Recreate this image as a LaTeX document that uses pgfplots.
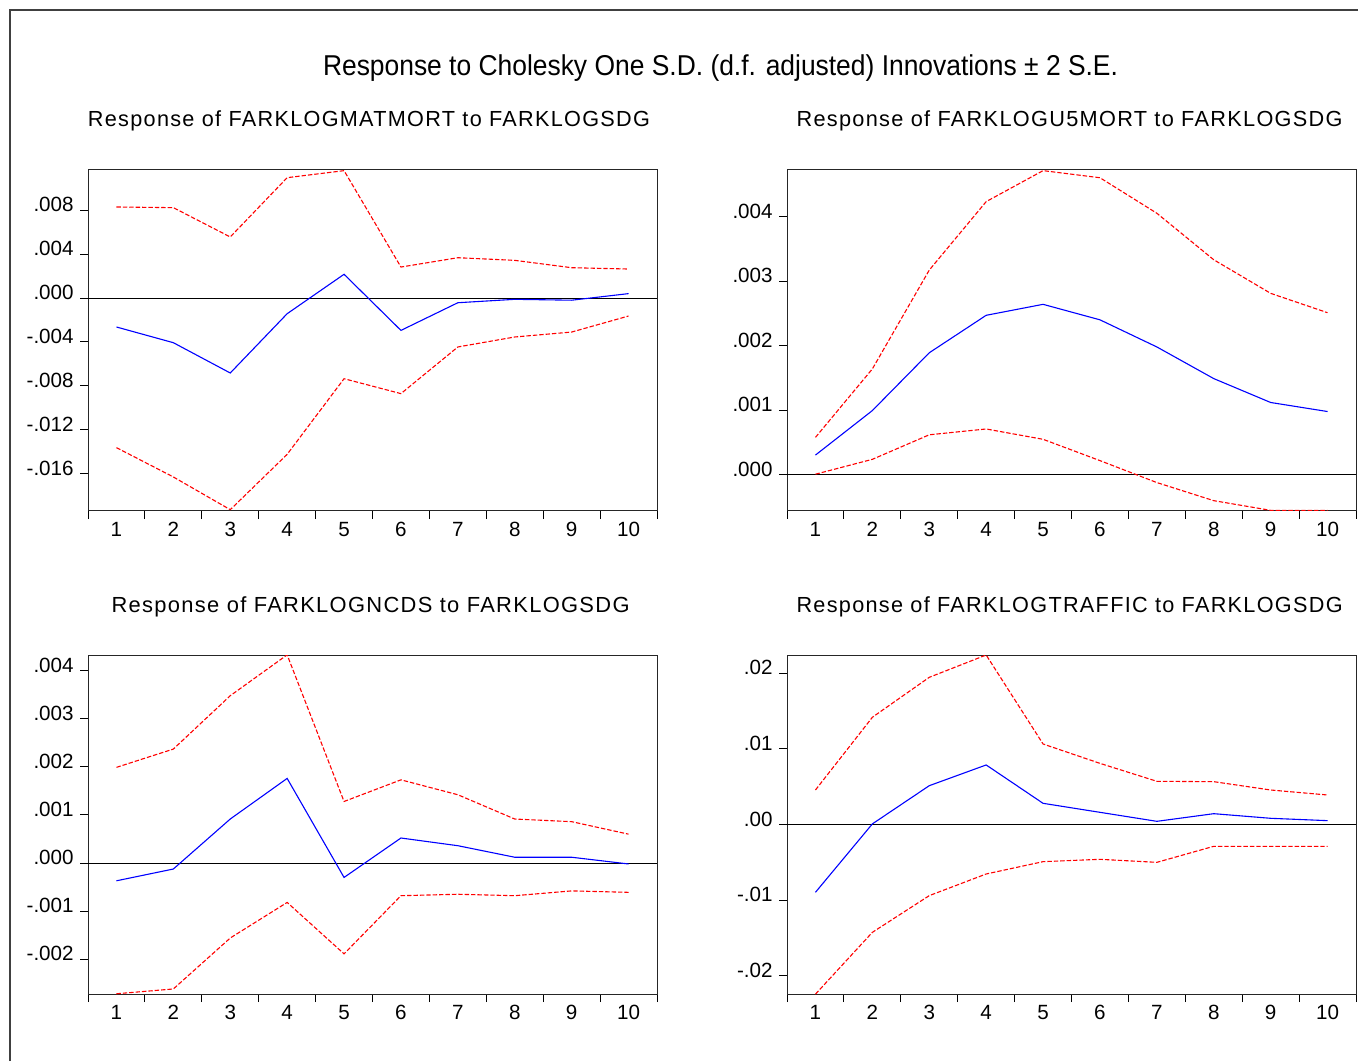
\documentclass[border=0pt]{standalone}
\usepackage{fontspec}
\setmainfont{Liberation Sans}
\newfontfamily\subfont[LetterSpace=6]{Liberation Sans}
\usepackage{pgfplots}
\pgfplotsset{compat=1.18}
\usepackage{graphicx}

\definecolor{irfblue}{RGB}{0,0,255}
\definecolor{irfred}{RGB}{255,0,0}

\pgfplotsset{
  irf/.style={
    scale only axis,
    width=284.5pt, height=170.5pt,
    xmin=0.5, xmax=10.5,
    xtick={1,...,10},
    xticklabels={1,2,3,4,5,6,7,8,9,10},
    minor xtick={0.5,1.5,...,10.5},
    major x tick style={draw=none},
    scaled y ticks=false,
    /pgf/number format/assume math mode=true,
    tick align=outside,
    xtick pos=bottom, ytick pos=left,
    major tick length=4pt, minor tick length=4pt,
    tick style={black, line width=0.5pt},
    axis line style={black!85, line width=0.5pt},
    ticklabel style={font=\fontsize{10.3pt}{12pt}\selectfont},
    yticklabel style={anchor=base east, inner sep=0pt, xshift=-3pt, yshift=-0.8pt},
    xticklabel style={anchor=north, inner sep=0pt, yshift=-1.5pt},
    clip=true,
  },
  resp/.style={irfblue, line width=0.55pt},
  band/.style={irfred, line width=0.55pt, dash pattern=on 2.2pt off 1pt},
  zero/.style={black, line width=0.5pt},
}

\begin{document}
\begin{tikzpicture}

% frame round the graph
\draw[black!75, line width=0.8pt] (5pt,0pt) -- (5pt,525.5pt) -- (679pt,525.5pt);

\node[anchor=base, inner sep=0pt] at (360.25pt,492.5pt)
  {\resizebox{397.5pt}{10.4pt}{\fontsize{13.3pt}{15pt}\selectfont Response to Cholesky One S.D. (d.f. adjusted) Innovations ± 2 S.E.}};

\node[anchor=base, inner sep=0pt] at (184.5pt,467pt)
  {\resizebox{281pt}{7.9pt}{\subfont\fontsize{10.6pt}{12pt}\selectfont Response of FARKLOGMATMORT to FARKLOGSDG}};
\node[anchor=base, inner sep=0pt] at (534.8pt,467pt)
  {\resizebox{273pt}{7.9pt}{\subfont\fontsize{10.6pt}{12pt}\selectfont Response of FARKLOGU5MORT to FARKLOGSDG}};
\node[anchor=base, inner sep=0pt] at (185.3pt,224.5pt)
  {\resizebox{259pt}{7.9pt}{\subfont\fontsize{10.6pt}{12pt}\selectfont Response of FARKLOGNCDS to FARKLOGSDG}};
\node[anchor=base, inner sep=0pt] at (534.8pt,224.5pt)
  {\resizebox{273pt}{7.9pt}{\subfont\fontsize{10.6pt}{12pt}\selectfont Response of FARKLOGTRAFFIC to FARKLOGSDG}};

% top left
\begin{axis}[irf, at={(44pt,275pt)}, anchor=south west,
  ymin=-0.0194, ymax=0.01166,
  ytick={-0.016,-0.012,-0.008,-0.004,0,0.004,0.008},
  yticklabels={-.016,-.012,-.008,-.004,.000,.004,.008}]
\addplot[zero] coordinates {(0.5,0) (10.5,0)};
\addplot[band] coordinates {(1,0.00829) (2,0.00823) (3,0.00556) (4,0.01096) (5,0.0116)
  (6,0.00282) (7,0.00367) (8,0.00343) (9,0.00276) (10,0.00264)};
\addplot[band] coordinates {(1,-0.01363) (2,-0.0163) (3,-0.01928) (4,-0.01424) (5,-0.00735)
  (6,-0.00871) (7,-0.00446) (8,-0.00355) (9,-0.0031) (10,-0.00164)};
\addplot[resp] coordinates {(1,-0.00264) (2,-0.00407) (3,-0.00683) (4,-0.00143) (5,0.00216)
  (6,-0.00295) (7,-0.00043) (8,-0.00012) (9,-0.0002) (10,0.0004)};
\end{axis}

% top right
\begin{axis}[irf, at={(393.5pt,275pt)}, anchor=south west,
  ymin=-0.00056, ymax=0.00472,
  ytick={0,0.001,0.002,0.003,0.004},
  yticklabels={.000,.001,.002,.003,.004}]
\addplot[zero] coordinates {(0.5,0) (10.5,0)};
\addplot[band] coordinates {(1,0.00058) (2,0.00164) (3,0.00317) (4,0.00423) (5,0.00471)
  (6,0.0046) (7,0.00405) (8,0.00333) (9,0.00281) (10,0.00251)};
\addplot[band] coordinates {(1,0.00001) (2,0.00024) (3,0.00062) (4,0.00071) (5,0.00055)
  (6,0.00022) (7,-0.00012) (8,-0.0004) (9,-0.00055) (10,-0.00055)};
\addplot[resp] coordinates {(1,0.000306) (2,0.000995) (3,0.00189) (4,0.00247) (5,0.00264)
  (6,0.0024) (7,0.00198) (8,0.00149) (9,0.00112) (10,0.00098)};
\end{axis}

% bottom left
\begin{axis}[irf, at={(44pt,33.5pt)}, anchor=south west, height=169.5pt,
  ymin=-0.002725, ymax=0.004327,
  ytick={-0.002,-0.001,0,0.001,0.002,0.003,0.004},
  yticklabels={-.002,-.001,.000,.001,.002,.003,.004}]
\addplot[zero] coordinates {(0.5,0) (10.5,0)};
\addplot[band] coordinates {(1,0.00199) (2,0.00237) (3,0.00348) (4,0.00433) (5,0.00128)
  (6,0.00173) (7,0.00142) (8,0.000915) (9,0.00086) (10,0.0006)};
\addplot[band] coordinates {(1,-0.00272) (2,-0.00262) (3,-0.00156) (4,-0.00082) (5,-0.00189)
  (6,-0.00068) (7,-0.00065) (8,-0.00068) (9,-0.00058) (10,-0.00061)};
\addplot[resp] coordinates {(1,-0.00037) (2,-0.000125) (3,0.000915) (4,0.00176) (5,-0.0003)
  (6,0.00052) (7,0.00036) (8,0.00012) (9,0.00012) (10,-0.00002)};
\end{axis}

% bottom right
\begin{axis}[irf, at={(393.5pt,33.5pt)}, anchor=south west, height=169.5pt,
  ymin=-0.02238, ymax=0.02242,
  ytick={-0.02,-0.01,0,0.01,0.02},
  yticklabels={-.02,-.01,.00,.01,.02}]
\addplot[zero] coordinates {(0.5,0) (10.5,0)};
\addplot[band] coordinates {(1,0.00458) (2,0.01419) (3,0.01947) (4,0.02242) (5,0.01066)
  (6,0.0081) (7,0.00573) (8,0.00568) (9,0.00458) (10,0.00392)};
\addplot[band] coordinates {(1,-0.0224) (2,-0.01423) (3,-0.00938) (4,-0.00652) (5,-0.00489)
  (6,-0.00458) (7,-0.00498) (8,-0.00286) (9,-0.00286) (10,-0.00286)};
\addplot[resp] coordinates {(1,-0.00894) (2,0.0001) (3,0.00515) (4,0.00789) (5,0.00282)
  (6,0.00163) (7,0.00044) (8,0.00145) (9,0.00084) (10,0.00053)};
\end{axis}

\pgfresetboundingbox
\path[use as bounding box] (0pt,0pt) rectangle (679pt,530.5pt);
\end{tikzpicture}
\end{document}
